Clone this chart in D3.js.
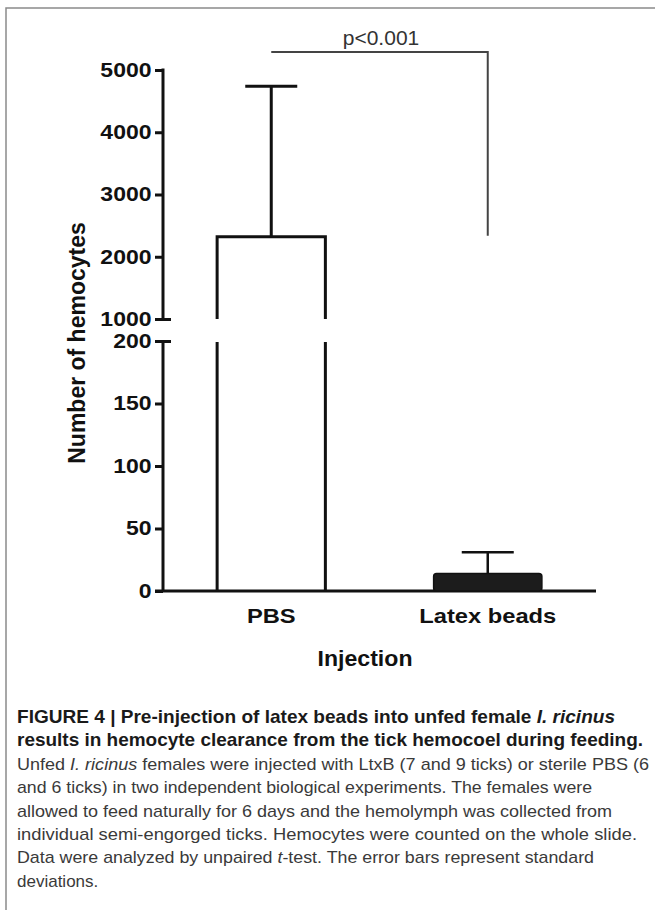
<!DOCTYPE html>
<html><head><meta charset="utf-8">
<script src="https://cdn.jsdelivr.net/npm/d3@7/dist/d3.min.js"></script>
<style>
html,body{margin:0;padding:0;background:#fff;}
svg{display:block;}
text{font-family:"Liberation Sans",Arial,Helvetica,sans-serif;}
</style></head>
<body>
<svg id="chart" width="655" height="910"></svg>
<script>
// ---- data ----
const categories = ["PBS", "Latex beads"];
const means = [2320, 14];
const sds = [2420, 17];           // mean + sd = error-bar top
const upperTicks = [1000, 2000, 3000, 4000, 5000];
const lowerTicks = [0, 50, 100, 150, 200];
const pLabel = "p<0.001";
const xTitle = "Injection";
const yTitle = "Number of hemocytes";

const svg = d3.select("#chart");

// frame (top & left edge of figure box)
svg.append("path").attr("d","M6,910 L6,8 L655,8").attr("fill","none")
  .attr("stroke","#8a8a8a").attr("stroke-width",1.5);

const axX = 163;
const x = d3.scaleBand().domain(categories).range([axX, 596]).paddingInner(0.5).paddingOuter(0.25);
const yUp = d3.scaleLinear().domain([1000, 5000]).range([319, 70]);
const yLo = d3.scaleLinear().domain([0, 200]).range([591, 341]);

const tickFont = "bold 20px 'Liberation Sans', Arial, sans-serif";
const fmt = d3.format("d");

// upper axis
const gUp = svg.append("g").attr("transform",`translate(${axX},0)`)
  .call(d3.axisLeft(yUp).tickValues(upperTicks).tickFormat(fmt).tickSize(8).tickSizeOuter(0).tickPadding(2));
// lower axis
const gLo = svg.append("g").attr("transform",`translate(${axX},0)`)
  .call(d3.axisLeft(yLo).tickValues(lowerTicks).tickFormat(fmt).tickSize(8).tickSizeOuter(0).tickPadding(2));
[gUp, gLo].forEach(g => {
  g.select(".domain").attr("stroke","#111").attr("stroke-width",3);
  g.selectAll(".tick line").attr("stroke","#111").attr("stroke-width",3);
  g.selectAll(".tick text").style("font", tickFont).attr("fill","#111")
    .attr("transform","scale(1.15,1)");
});
// break caps: extend 1000 and 200 ticks to the right of the axis
gUp.selectAll(".tick").filter(d => d === 1000).select("line").attr("x2", 8).attr("x1",-8);
gLo.selectAll(".tick").filter(d => d === 200).select("line").attr("x2", 8).attr("x1",-8);
gUp.select(".domain").attr("d", `M0,${yUp(5000)-1.5}V${yUp(1000)}`);
gLo.select(".domain").attr("d", `M0,${yLo(200)}V${yLo(0)}`);

// x axis
const gx = svg.append("g").attr("transform",`translate(0,${yLo(0)})`)
  .call(d3.axisBottom(x).tickSize(0).tickPadding(17));
gx.select(".domain").attr("d", `M${axX-8},0H596`).attr("stroke","#111").attr("stroke-width",3);
gx.selectAll(".tick text").style("font","bold 21px 'Liberation Sans', Arial, sans-serif").attr("fill","#111")
  .attr("transform","scale(1.13,1)");

// bars
const bw = x.bandwidth();
categories.forEach((c, i) => {
  const x0 = x(c), x1 = x(c) + bw, v = means[i];
  if (v > 200) {
    svg.append("path").attr("d",
      `M${x0},${yLo(0)}V${yLo(200)+1}M${x1},${yLo(0)}V${yLo(200)+1}`)
      .attr("fill","none").attr("stroke","#111").attr("stroke-width",3);
    svg.append("rect").attr("x",x0).attr("y",yUp(v)).attr("width",bw).attr("height",yUp(1000)-yUp(v))
      .attr("fill","#fff");
    svg.append("path").attr("d",
      `M${x0},${yUp(1000)}V${yUp(v)}H${x1}V${yUp(1000)}`)
      .attr("fill","none").attr("stroke","#111").attr("stroke-width",3).attr("stroke-linejoin","miter");
  } else {
    svg.append("rect").attr("x",x0).attr("y",yLo(v)).attr("width",bw).attr("height",yLo(0)-yLo(v))
      .attr("rx",3).attr("fill","#1c1c1c").attr("stroke","#111").attr("stroke-width",1.5);
  }
});

// error bars
categories.forEach((c, i) => {
  const cx = x(c) + bw/2, v = means[i], top = means[i] + sds[i];
  const yS = v > 200 ? yUp : yLo;
  const cap = 26;
  svg.append("path").attr("d",`M${cx},${yS(v)}V${yS(top)}M${cx-cap},${yS(top)}H${cx+cap}`)
    .attr("fill","none").attr("stroke","#111").attr("stroke-width", i === 0 ? 3 : 2.5);
});

// significance bracket
const cP = x(categories[0]) + bw/2, cL = x(categories[1]) + bw/2;
svg.append("path").attr("d",`M${cP},52H${cL}V${yUp(means[0])-1}`)
  .attr("fill","none").attr("stroke","#444").attr("stroke-width",2);
svg.append("text").attr("x",381).attr("y",45).attr("text-anchor","middle")
  .style("font","21px 'Liberation Sans', Arial, sans-serif").attr("fill","#333").text(pLabel);

// axis titles
svg.append("text").attr("x",365).attr("y",666).attr("text-anchor","middle")
  .style("font","bold 22px 'Liberation Sans', Arial, sans-serif").attr("fill","#111")
  .attr("textLength",95).attr("lengthAdjust","spacingAndGlyphs").text(xTitle);
svg.append("text").attr("transform","translate(85,343) rotate(-90)").attr("text-anchor","middle")
  .style("font","bold 23px 'Liberation Sans', Arial, sans-serif").attr("fill","#111").text(yTitle);

// caption
const captionLines = [
  {b:true, w:598, parts:[["FIGURE 4 | Pre-injection of latex beads into unfed female ",0],["I. ricinus",1]]},
  {b:true, w:626, parts:[["results in hemocyte clearance from the tick hemocoel during feeding.",0]]},
  {b:false, w:632, parts:[["Unfed ",0],["I. ricinus",1],[" females were injected with LtxB (7 and 9 ticks) or sterile PBS (6",0]]},
  {b:false, w:575, parts:[["and 6 ticks) in two independent biological experiments. The females were",0]]},
  {b:false, w:595, parts:[["allowed to feed naturally for 6 days and the hemolymph was collected from",0]]},
  {b:false, w:620, parts:[["individual semi-engorged ticks. Hemocytes were counted on the whole slide.",0]]},
  {b:false, w:577, parts:[["Data were analyzed by unpaired ",0],["t",1],["-test. The error bars represent standard",0]]},
  {b:false, w:0, parts:[["deviations.",0]]}
];
const cap = svg.append("g");
captionLines.forEach((ln, i) => {
  const t = cap.append("text").attr("x",17).attr("y",723 + i*23.4)
    .style("font-size", ln.b ? "18.5px" : "17px").style("font-weight", ln.b ? "bold" : "normal")
    .attr("fill", ln.b ? "#1a1a1a" : "#3a3a3a");
  if (ln.w) t.attr("textLength", ln.w).attr("lengthAdjust","spacingAndGlyphs");
  ln.parts.forEach(p => t.append("tspan").style("font-style", p[1] ? "italic" : "normal").text(p[0]));
});
</script>
</body></html>
